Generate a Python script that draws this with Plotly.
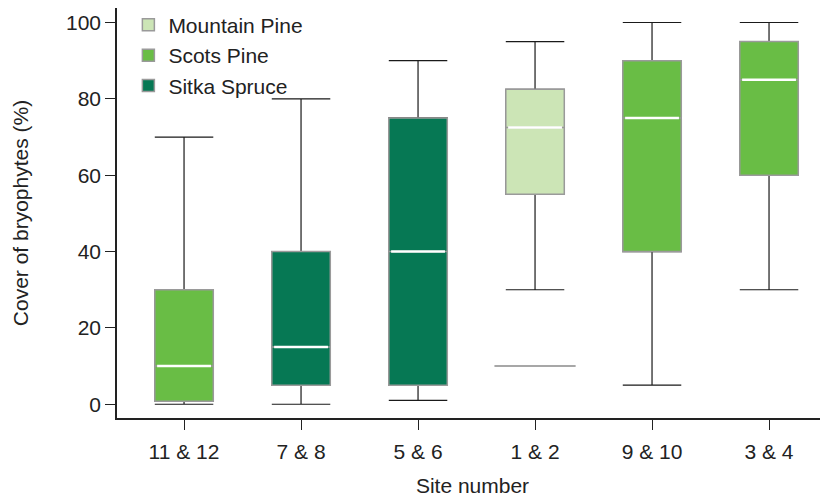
import plotly.graph_objects as go

sites = ["11 & 12", "7 & 8", "5 & 6", "1 & 2", "9 & 10", "3 & 4"]
species = ["Scots Pine", "Sitka Spruce", "Sitka Spruce", "Mountain Pine", "Scots Pine", "Scots Pine"]
lower = [0, 0, 1, 30, 5, 30]
q1 = [0.8, 5, 5, 55, 40, 60]
median = [10, 15, 40, 72.5, 75, 85]
q3 = [30, 40, 75, 82.5, 90, 95]
upper = [70, 80, 90, 95, 100, 100]
outlier_site = ["1 & 2"]
outlier_value = [10]

species_order = ["Mountain Pine", "Scots Pine", "Sitka Spruce"]
colors = {"Mountain Pine": "#cce5b6", "Scots Pine": "#69bd45", "Sitka Spruce": "#067854"}

xpos = list(range(len(sites)))
BW = 0.5
FONT = "Liberation Sans, Arial, sans-serif"
FS = 21

fig = go.Figure()

# whiskers (black)
fig.add_trace(go.Box(
    x=xpos, q1=q1, median=median, q3=q3, lowerfence=lower, upperfence=upper,
    width=BW, whiskerwidth=1, fillcolor="rgba(0,0,0,0)",
    line=dict(color="#1a1a1a", width=1.2), showlegend=False, hoverinfo="skip",
))

# boxes per species (gray outline)
for sp in species_order:
    idx = [i for i, s in enumerate(species) if s == sp]
    fig.add_trace(go.Box(
        x=[xpos[i] for i in idx],
        q1=[q1[i] for i in idx], median=[median[i] for i in idx], q3=[q3[i] for i in idx],
        lowerfence=[q1[i] for i in idx], upperfence=[q3[i] for i in idx],
        width=BW, whiskerwidth=0, fillcolor=colors[sp],
        line=dict(color="#9a9a9a", width=1.5), name=sp,
    ))

# white medians
mx, my = [], []
for i, m in enumerate(median):
    mx += [xpos[i] - BW / 2 + 0.02, xpos[i] + BW / 2 - 0.02, None]
    my += [m, m, None]
fig.add_trace(go.Scatter(x=mx, y=my, mode="lines", line=dict(color="white", width=2.5),
                         showlegend=False, hoverinfo="skip"))

# outliers
fig.add_trace(go.Scatter(
    x=[sites.index(s) for s in outlier_site], y=outlier_value, mode="markers",
    marker=dict(symbol="line-ew", size=58, line=dict(color="#8a8a8a", width=1.5)),
    showlegend=False, hoverinfo="skip",
))

fig.update_layout(
    width=820, height=489,
    margin=dict(l=109, r=0, t=0, b=79, autoexpand=False),
    plot_bgcolor="white", paper_bgcolor="white",
    font=dict(family=FONT, size=FS, color="#222222"),
    showlegend=True,
    legend=dict(x=0.016, y=1.008, xanchor="left", yanchor="top", bgcolor="rgba(0,0,0,0)",
                font=dict(size=FS), tracegroupgap=0, itemwidth=30),
    xaxis=dict(
        range=[-0.573, 5.504], tickmode="array", tickvals=xpos, ticktext=sites,
        showline=True, linecolor="#222222", linewidth=1.5, mirror=True,
        ticks="outside", ticklen=10, tickcolor="#222222", showgrid=False, zeroline=False,
        tickfont=dict(size=FS), automargin=False, ticklabelstandoff=4,
        title=dict(text="Site number", standoff=16, font=dict(size=FS)),
    ),
    yaxis=dict(
        range=[-3.6, 103.8], tickvals=[0, 20, 40, 60, 80, 100],
        showline=True, linecolor="#222222", linewidth=1.5,
        ticks="outside", ticklen=10, tickcolor="#222222", showgrid=False, zeroline=False,
        tickfont=dict(size=FS), automargin=False,
        title=dict(text="Cover of bryophytes (%)", standoff=32, font=dict(size=FS)),
    ),
)

fig.write_html("out.html")
